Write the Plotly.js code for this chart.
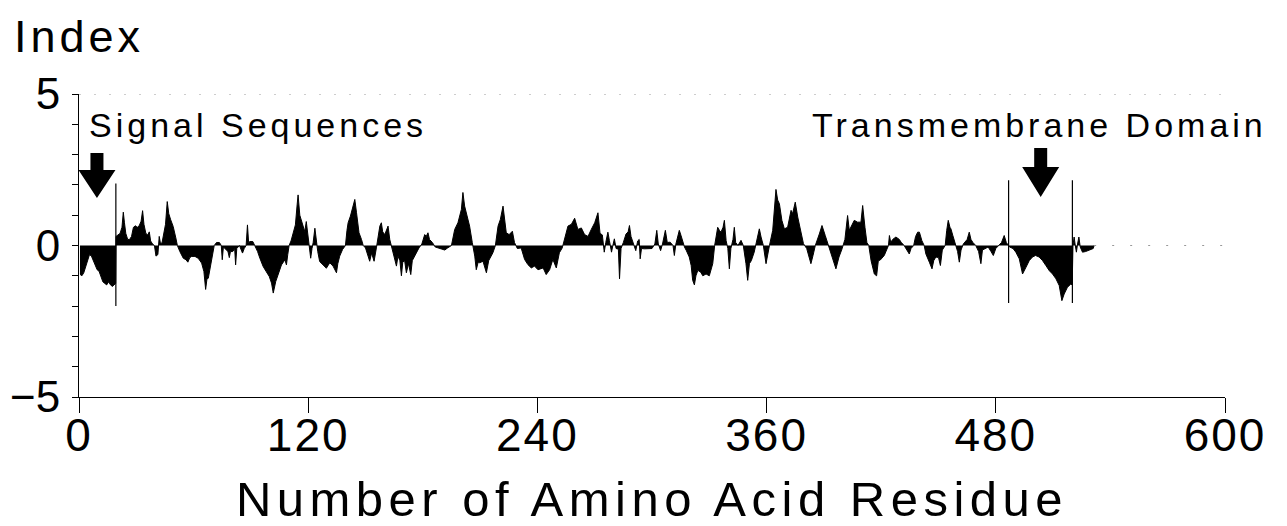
<!DOCTYPE html>
<html>
<head>
<meta charset="utf-8">
<script src="https://cdn.plot.ly/plotly-3.0.1.min.js"></script>
<style>
  html, body { margin: 0; padding: 0; background: #fff; }
  #chart { width: 1287px; height: 526px; }
  .annotation-text { letter-spacing: 4px; }
  .xtick text { letter-spacing: 2px; }
  .g-xtitle text { letter-spacing: 5.5px; }
</style>
</head>
<body>
<div id="chart"></div>
<script>
// Hydropathy profile: residue position and index value, region by region
const residue = [
  0.5,1.5,2.5,3.5,4.5,5.5,6.5,7.5,8.5,9.5,10.5,11.5,12.5,13.5,14.5,15.5,16.5,17.5,18.5,19.2,19.4,
  20.5,21.5,22.5,23.2,23.8,24.5,25.5,26.5,27.5,28.5,29.5,30.5,31.5,32.5,33.3,34,35,36,36.8,37.5,38.5,39.5,40.3,41.3,42,42.7,43.5,44.5,45.3,46.2,47,48,49.3,50.7,51.5,
  52.8,54.6,56,57,58,59,60.7,62.4,64.2,65.4,66.3,67,67.7,69,70,70.8,
  72,73.5,74.5,75,75.6,76.5,78,78.7,79.3,80.5,81.5,82,82.6,84,85.6,86.5,87.5,88.2,88.8,89.5,91,92,
  93.5,94.7,96.4,98,99.6,100.8,101.7,103,104.3,106,107.8,108.6,109.3,110,
  111,112,113.3,114.2,114.7,115.6,117,118.2,119,120,120.6,121.3,122,122.6,123.5,124.2,125,
  126,127.8,129.5,130.5,131.3,133,134.8,135.5,136.5,138,139.5,
  140.3,140.9,142.1,143.5,144.4,145.3,146.6,147.9,148.8,150,151.4,152.2,153.2,154.5,155.7,156.5,157.5,158.3,159,160.1,161.8,162.7,163.5,
  164.4,165.3,166.2,167,168,168.8,169.5,170.5,171.4,172.5,173.7,174.5,176.6,178,179.5,181,181.8,182.7,183.5,185,186.5,188,190,191.5,193,195,
  196.7,198.4,200.2,201,201.9,203.3,204.5,205.9,207.2,208,209,209.8,211.5,213.3,214.5,216.7,218,
  219.4,220.6,222,222.8,223.7,225.2,226.9,228,229.5,231.5,233.3,235,236.8,238.5,240.3,243,244.6,246.4,248.1,249.9,251.5,253,
  254.5,256,257.8,259.5,261.2,263,264.7,266.5,268.2,270,271.7,272.8,274,
  275,275.8,276.9,277.7,278.8,279.5,280.3,281.2,282.4,283,283.8,285,286.4,287.5,288.2,289,290,291.5,292.5,293.3,293.8,294.5,296,298,300,301.5,302.5,303.3,304.5,305.5,307,308,309.5,311,311.7,312.5,
  313.5,314.3,315.2,316,317,318,319.5,320.5,321.3,322.2,323,324,325.5,326.6,328.3,330,331.8,332.8,
  334.4,335.3,336.1,337.2,337.9,338.8,339.7,340.5,341.3,342.4,343.1,343.8,345,346.6,347.8,349.2,350.1,351,352,353.5,354.8,356.2,357.1,358.3,359.7,360.5,361.5,
  363.2,364.1,364.9,365.8,366.7,368,369.3,371,372.8,373.6,375,376.3,378,379.3,381,382.4,383.2,384.3,385.5,387.6,389,390.7,392,
  393.8,396.3,397.9,399.5,401,402.4,403.3,405.9,407.6,409.4,410.3,411.5,412.5,413.5,
  414.7,416.4,417.6,418.5,419.5,421.6,423,423.8,424.3,425,426,427.7,429.5,430.4,432,433.5,434.7,435.6,437,438,439.1,440,441.3,442.5,443.4,445.2,446.6,447.5,448.6,450,451,452,453.5,
  454.3,455.1,456,456.5,457.5,458.8,460,460.9,461.8,463,465,466.1,467,468,469.5,471,472.2,473,474.5,476,477.5,478.7,480,481.5,483,484.4,485.5,486.6,
  487.2,489,490.5,492.3,494,495.8,497.5,499.2,500.8,502.7,504.5,506.2,508,509.7,511.5,513.2,514.6,515.8,517.5,519.3,520,
  520.4,521,521.5,522.2,522.8,523.5,524.2,525.4,527,529,531,531.5
];
const hydropathy = [
  -0.95,-1.0,-0.9,-0.7,-0.5,-0.3,-0.35,-0.5,-0.6,-0.8,-0.85,-1.05,-1.2,-1.25,-1.3,-1.2,-1.3,-1.35,-1.3,-1.25,0.3,
  0.35,0.4,0.6,1.1,0.75,0.4,0.2,0.2,0.3,0.6,0.65,0.6,0.65,0.8,1.15,0.7,0.4,0.35,0.45,0.15,0.05,0,-0.35,-0.3,0.3,0.05,0.1,0.5,0.7,1.45,1.05,0.85,0.63,0.25,0,
  -0.2,-0.42,-0.47,-0.55,-0.4,-0.36,-0.36,-0.42,-0.58,-0.86,-1.45,-1.1,-1.08,-0.64,-0.2,0,
  0.1,0.1,0,-0.47,-0.05,-0.1,-0.2,-0.4,-0.2,-0.2,-0.1,-0.64,-0.1,0,-0.25,-0.1,0,0.68,0.1,0.13,0.13,0,
  -0.2,-0.42,-0.69,-0.86,-1.02,-1.24,-1.57,-1.19,-0.97,-0.64,-0.47,-0.64,-0.3,0,
  0.15,0.35,0.68,1.34,1.67,1.0,0.68,0.46,0.79,0.24,0,-0.42,-0.1,0.1,0.57,0.1,-0.2,
  -0.53,-0.64,-0.75,-0.65,-0.57,-0.68,-0.9,-0.6,-0.35,-0.13,0,
  0.5,0.75,0.97,1.3,1.52,1.08,0.42,0.2,0,-0.08,-0.4,-0.52,-0.25,-0.52,-0.08,0.3,0.64,0.75,0.45,0.36,0.64,0.2,0,
  -0.24,-0.46,-0.68,-0.35,-0.5,-1.0,-0.55,-0.5,-0.9,-0.6,-0.96,-0.5,-0.24,-0.08,0.05,0.36,0.3,0.42,0.2,0.1,-0.05,-0.08,-0.12,-0.15,-0.08,0,
  0.53,0.75,1.19,1.75,1.3,0.97,0.64,0.1,-0.35,-0.8,-0.55,-0.57,-0.52,-0.9,-0.5,-0.24,0,
  0.64,0.86,1.3,0.86,0.42,0.36,0.47,0.1,-0.1,-0.08,-0.46,-0.63,-0.74,-0.68,-0.8,-0.74,-0.96,-0.8,-0.46,-0.74,-0.24,-0.08,
  0.3,0.64,0.7,0.9,0.53,0.58,0.36,0.3,0.53,0.75,1.08,0.4,0.35,
  -0.22,0.1,0.44,0.16,-0.22,0,0.22,-0.1,-0.12,-1.1,-0.1,0.1,0.38,0.45,0.66,0.3,0.1,-0.17,0.15,0.2,-0.44,-0.1,-0.11,-0.11,-0.1,0.05,0.5,0.05,-0.17,0.05,0.5,0.1,0.11,0,-0.33,0.05,
  0.3,0.5,0.33,0.15,-0.05,-0.17,-0.38,-0.66,-1.15,-1.3,-1.0,-0.82,-0.88,-1.0,-0.94,-1.0,-0.6,0,
  0.6,0.5,0.44,0.6,0.83,0.16,-0.1,-0.77,-0.1,0.2,0.6,0.1,0,0.17,0,-0.6,-1.15,-0.6,-0.5,-0.22,0.2,0.55,0.28,0,-0.6,-0.27,0,
  0.5,1.27,1.85,1.5,1.38,0.83,0.55,0.6,1.16,1.05,1.43,0.94,0.5,0.06,-0.1,-0.38,-0.6,-0.33,0,0.38,0.66,0.33,0.1,
  -0.28,-0.77,-0.38,-0.11,0.2,0.99,0.5,0.83,0.77,0.77,1.32,0.6,0.1,0,
  -0.5,-0.94,-1.0,-0.5,-0.48,-0.33,-0.1,0,0.33,0.1,0.2,0.28,0.2,0.11,0,-0.15,-0.28,-0.1,0,0.3,0.44,0.44,0.16,0,-0.28,-0.55,-0.77,-0.5,-0.38,-0.4,-0.66,-0.15,0,
  0.5,0.83,0.6,0.55,0.33,0.05,-0.2,-0.55,-0.15,0.05,0.2,0.44,0.2,0.1,0,-0.2,-0.6,-0.15,-0.1,-0.05,-0.2,-0.33,-0.1,0,0.1,0.33,0.1,0,
  -0.05,-0.1,-0.22,-0.44,-0.94,-0.72,-0.5,-0.38,-0.33,-0.38,-0.5,-0.66,-0.83,-0.94,-1.1,-1.32,-1.82,-1.6,-1.38,-1.27,-1.3,
  0,0.28,0.05,-0.22,0.05,0.28,-0.05,-0.22,-0.2,-0.15,-0.1,0
];

// Axis ticks
const xTicks = [0, 120, 240, 360, 480, 600];
const yTicks = [-5, -4, -3, -2, -1, 0, 1, 2, 3, 4, 5];
const yTickText = ['\u22125', '', '', '', '', '0', '', '', '', '', '5'];

// Domain boundaries (residue numbers) and labels
const signalEnd = 19.3;
const tmStart = 486.7;
const tmEnd = 520.1;
const signalLabel = 'Signal Sequences';
const tmLabel = 'Transmembrane Domain';

// Arrow tips: [residue, index]
const signalArrowTip = [9.4, 1.57];
const tmArrowTip = [503.5, 1.6];

const FONT = 'Liberation Sans, Arial, Helvetica, sans-serif';
const lastResidue = residue[residue.length - 1];

// Block arrow outline in pixels relative to its tip (y up): shaft half-width,
// head half-width, head length, total length
function blockArrow(tip, shaftHalf, headHalf, headLen, total) {
  const p = [
    [0, 0], [-headHalf, headLen], [-shaftHalf, headLen], [-shaftHalf, total],
    [shaftHalf, total], [shaftHalf, headLen], [headHalf, headLen]
  ];
  return {
    type: 'path', xref: 'x', yref: 'y',
    xsizemode: 'pixel', ysizemode: 'pixel',
    xanchor: tip[0], yanchor: tip[1],
    path: 'M' + p.map(q => q[0] + ',' + q[1]).join('L') + 'Z',
    fillcolor: '#000', line: { width: 0 }
  };
}

const trace = {
  x: residue,
  y: hydropathy,
  type: 'scatter',
  mode: 'lines',
  line: { color: '#000', width: 1 },
  fill: 'tozeroy',
  fillcolor: '#000',
  hoverinfo: 'x+y'
};

const layout = {
  width: 1287,
  height: 526,
  margin: { l: 79, r: 62, t: 94, b: 129 },
  paper_bgcolor: '#fff',
  plot_bgcolor: '#fff',
  showlegend: false,
  font: { family: FONT, color: '#000' },
  xaxis: {
    range: [0, 600],
    tickvals: xTicks,
    ticktext: xTicks.map(String),
    ticks: 'outside',
    ticklen: 15,
    tickwidth: 1,
    tickcolor: '#000',
    ticklabelstandoff: -18,
    showline: true,
    linecolor: '#000',
    linewidth: 1.3,
    showgrid: false,
    zeroline: false,
    tickfont: { family: FONT, size: 46, color: '#000' },
    title: {
      text: 'Number of Amino Acid Residue',
      font: { family: FONT, size: 49, color: '#000' },
      standoff: 33
    }
  },
  yaxis: {
    range: [-5, 5],
    tickvals: yTicks,
    ticktext: yTickText,
    ticks: 'outside',
    ticklen: 6,
    tickwidth: 1,
    tickcolor: '#000',
    ticklabelstandoff: 3,
    showline: true,
    linecolor: '#000',
    linewidth: 1,
    showgrid: false,
    zeroline: false,
    tickfont: { family: FONT, size: 44, color: '#000' }
  },
  shapes: [
    // dotted reference line along the top of the scale
    { type: 'line', xref: 'x', yref: 'y', x0: 0, x1: 600, y0: 5, y1: 5,
      line: { color: '#999', width: 1, dash: '2px,13px' } },
    // dotted baseline past the end of the sequence
    { type: 'line', xref: 'x', yref: 'y', x0: lastResidue, x1: 600, y0: 0, y1: 0,
      line: { color: '#999', width: 1, dash: '2px,16px' } },
    // domain boundary markers
    { type: 'line', xref: 'x', yref: 'y', x0: signalEnd, x1: signalEnd, y0: -2.0, y1: 2.05,
      line: { color: '#000', width: 1.2 } },
    { type: 'line', xref: 'x', yref: 'y', x0: tmStart, x1: tmStart, y0: -1.9, y1: 2.15,
      line: { color: '#000', width: 1.2 } },
    { type: 'line', xref: 'x', yref: 'y', x0: tmEnd, x1: tmEnd, y0: -1.9, y1: 2.15,
      line: { color: '#000', width: 1.2 } },
    blockArrow(signalArrowTip, 6.5, 18.5, 28, 45),
    blockArrow(tmArrowTip, 6.5, 18.5, 30, 49)
  ],
  annotations: [
    { text: 'Index', xref: 'paper', yref: 'paper', x: -0.0585, y: 1.28,
      xanchor: 'left', yanchor: 'top', showarrow: false,
      font: { family: FONT, size: 45, color: '#000' } },
    { text: signalLabel, xref: 'x', yref: 'y', x: 4.0, y: 3.97,
      xanchor: 'left', yanchor: 'middle', showarrow: false,
      font: { family: FONT, size: 34, color: '#000' } },
    { text: tmLabel, xref: 'x', yref: 'y', x: 382.5, y: 3.97,
      xanchor: 'left', yanchor: 'middle', showarrow: false,
      font: { family: FONT, size: 34, color: '#000' } }
  ]
};

Plotly.newPlot('chart', [trace], layout, { displayModeBar: false, staticPlot: true });
</script>
</body>
</html>
